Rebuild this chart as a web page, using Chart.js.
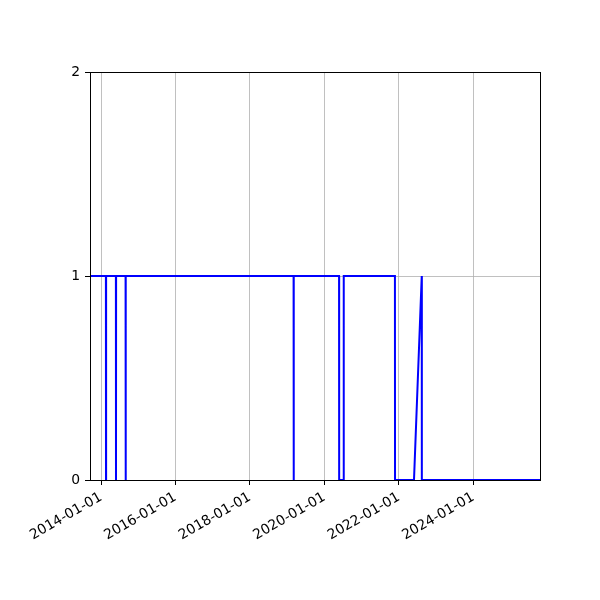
<!DOCTYPE html>
<html>
<head>
<meta charset="utf-8">
<script src="https://cdn.jsdelivr.net/npm/chart.js@4"></script>
<style>
html,body{margin:0;padding:0;background:#fff;}
#wrap{width:600px;height:600px;}
</style>
</head>
<body>
<div id="wrap"><canvas id="c" width="600" height="600"></canvas></div>
<script>
// Data
const dates = [
  "2013-09-15","2014-02-18","2014-02-19","2014-02-20",
  "2014-05-27","2014-05-28","2014-05-29",
  "2014-08-30","2014-08-31","2014-09-01",
  "2019-03-05","2019-03-06","2019-03-07",
  "2020-05-24","2020-05-25","2020-07-08","2020-07-09",
  "2021-11-23","2021-11-24","2022-05-29","2022-08-13","2022-08-14",
  "2025-10-16"
];
const values = [
  1,1,0,1,
  1,0,1,
  1,0,1,
  1,0,1,
  1,0,0,1,
  1,0,0,1,0,
  0
];
const xRange = ["2013-09-15","2025-10-16"];
const xTickDates = ["2014-01-01","2016-01-01","2018-01-01","2020-01-01","2022-01-01","2024-01-01"];
const yTicks = [0,1,2];

const toMs = s => Date.parse(s + "T00:00:00Z");
const points = dates.map((d,i)=>({x: toMs(d), y: values[i]}));

const font = {family: "'DejaVu Sans'", size: 13.9};

const frame = {
  id: 'frame',
  afterDraw(chart){
    const {ctx, chartArea:a} = chart;
    const l = Math.round(a.left) + 0.5, r = Math.round(a.right) + 0.5;
    const t = Math.round(a.top) + 0.5, b = Math.round(a.bottom) + 0.5;
    ctx.save();
    ctx.strokeStyle = '#000';
    ctx.lineWidth = 1;
    ctx.strokeRect(l, t, r - l, b - t);
    ctx.restore();
  }
};

new Chart(document.getElementById('c'), {
  type: 'line',
  data: {
    datasets: [{
      data: points,
      borderColor: '#0000ff',
      borderWidth: 2,
      pointRadius: 0,
      tension: 0,
      fill: false,
      clip: 0
    }]
  },
  options: {
    responsive: false,
    devicePixelRatio: 1,
    animation: false,
    events: [],
    layout: {padding: {left: 0, top: 72, right: 60, bottom: 0}},
    plugins: {legend: {display: false}, tooltip: {enabled: false}},
    scales: {
      x: {
        type: 'linear',
        min: toMs(xRange[0]),
        max: toMs(xRange[1]),
        afterBuildTicks: s => { s.ticks = xTickDates.map(d => ({value: toMs(d)})); },
        afterFit: s => { s.height = 120; },
        ticks: {
          autoSkip: false,
          minRotation: 30,
          maxRotation: 30,
          padding: 4,
          color: '#000',
          font: font,
          callback: (v, i) => xTickDates[i]
        },
        grid: {color: '#b0b0b0', lineWidth: 0.8, tickColor: '#000', tickLength: 5, tickWidth: 1},
        border: {display: false}
      },
      y: {
        min: 0,
        max: 2,
        afterBuildTicks: s => { s.ticks = yTicks.map(v => ({value: v})); },
        afterFit: s => { s.width = 90; },
        ticks: {
          padding: 5,
          color: '#000',
          font: font,
          callback: v => String(v)
        },
        grid: {color: '#b0b0b0', lineWidth: 0.8, tickColor: '#000', tickLength: 5, tickWidth: 1},
        border: {display: false}
      }
    }
  },
  plugins: [frame]
});
</script>
</body>
</html>
